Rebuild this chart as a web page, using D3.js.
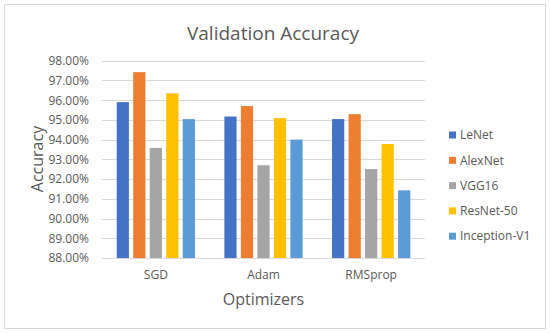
<!DOCTYPE html>
<html>
<head>
<meta charset="utf-8">
<script src="https://cdn.jsdelivr.net/npm/d3@7"></script>
<style>
  body { margin: 0; background: #fff; }
  text { font-family: "Open Sans", "Liberation Sans", sans-serif; fill: #595959; }
</style>
</head>
<body>
<svg id="chart" width="550" height="333"></svg>
<script>
// chart data
const optimizers = ['SGD', 'Adam', 'RMSprop']
const models = ['LeNet', 'AlexNet', 'VGG16', 'ResNet-50', 'Inception-V1']
const lenet = [95.9, 95.17, 95.04]
const alexnet = [97.42, 95.7, 95.29]
const vgg16 = [93.58, 92.7, 92.51]
const resnet50 = [96.35, 95.09, 93.78]
const inceptionV1 = [95.04, 94.0, 91.43]
const yTicks = [88, 89, 90, 91, 92, 93, 94, 95, 96, 97, 98]
const colors = ['#4472C4', '#ED7D31', '#A5A5A5', '#FFC000', '#5B9BD5']

const series = [lenet, alexnet, vgg16, resnet50, inceptionV1]

const width = 550
const height = 333
const margin = {top: 60.7, right: 125, bottom: 75, left: 102}

const svg = d3.select('#chart')

// outer border
svg.append('rect')
    .attr('x', 4.5).attr('y', 4.5)
    .attr('width', width - 9).attr('height', height - 9)
    .attr('fill', 'none')
    .attr('stroke', '#d9d9d9')

const x0 = d3.scaleBand()
    .domain(optimizers)
    .range([margin.left, width - margin.right])

const x1 = d3.scaleBand()
    .domain(models)
    .range([14.7, x0.bandwidth() - 14.7])
    .paddingInner(0.26)

const y = d3.scaleLinear()
    .domain([88, 98])
    .range([height - margin.bottom, margin.top])

// gridlines
svg.append('g')
    .selectAll('line')
    .data(yTicks)
    .join('line')
        .attr('x1', margin.left)
        .attr('x2', width - margin.right)
        .attr('y1', d => Math.round(y(d)) + 0.5)
        .attr('y2', d => Math.round(y(d)) + 0.5)
        .attr('stroke', '#d9d9d9')
        .attr('stroke-width', 1)

// y axis labels
const yAxis = svg.append('g')
    .attr('transform', `translate(${margin.left - 13}, 0)`)
    .call(d3.axisLeft(y).tickValues(yTicks).tickSize(0).tickFormat(d => d.toFixed(2) + '%'))
yAxis.select('.domain').remove()
yAxis.selectAll('text')
    .attr('font-size', 12)
    .attr('fill', '#595959')
    .attr('x', 0)
    .style('font-family', '"Open Sans", "Liberation Sans", sans-serif')

// bars
const groups = svg.append('g')
    .selectAll('g')
    .data(optimizers)
    .join('g')
        .attr('transform', d => `translate(${x0(d)}, 0)`)

groups.selectAll('rect')
    .data((d, i) => models.map((m, j) => ({model: m, value: series[j][i], color: colors[j]})))
    .join('rect')
        .attr('x', d => x1(d.model))
        .attr('width', x1.bandwidth())
        .attr('y', d => y(d.value))
        .attr('height', d => y(88) - y(d.value))
        .attr('fill', d => d.color)

// x axis
const xAxis = svg.append('g')
    .attr('transform', `translate(0, ${y(88)})`)
    .call(d3.axisBottom(x0).tickSize(0).tickPadding(12))
xAxis.select('.domain').remove()
xAxis.selectAll('text')
    .attr('font-size', 12)
    .attr('fill', '#595959')
    .style('font-family', '"Open Sans", "Liberation Sans", sans-serif')

// titles
svg.append('text')
    .attr('x', 273).attr('y', 40)
    .attr('text-anchor', 'middle')
    .attr('font-size', 19)
    .text('Validation Accuracy')

svg.append('text')
    .attr('x', (margin.left + width - margin.right) / 2).attr('y', 305)
    .attr('text-anchor', 'middle')
    .attr('font-size', 16)
    .text('Optimizers')

svg.append('text')
    .attr('transform', 'translate(43, 159) rotate(-90)')
    .attr('text-anchor', 'middle')
    .attr('font-size', 16)
    .text('Accuracy')

// legend
const legend = svg.append('g')
    .selectAll('g')
    .data(models)
    .join('g')
        .attr('transform', (d, i) => `translate(449, ${135 + i * 25.3})`)

legend.append('rect')
    .attr('x', 0).attr('y', -3.5)
    .attr('width', 7).attr('height', 7)
    .attr('fill', (d, i) => colors[i])

legend.append('text')
    .attr('x', 11).attr('y', 0)
    .attr('dy', '0.35em')
    .attr('font-size', 12)
    .text(d => d)
</script>
</body>
</html>
